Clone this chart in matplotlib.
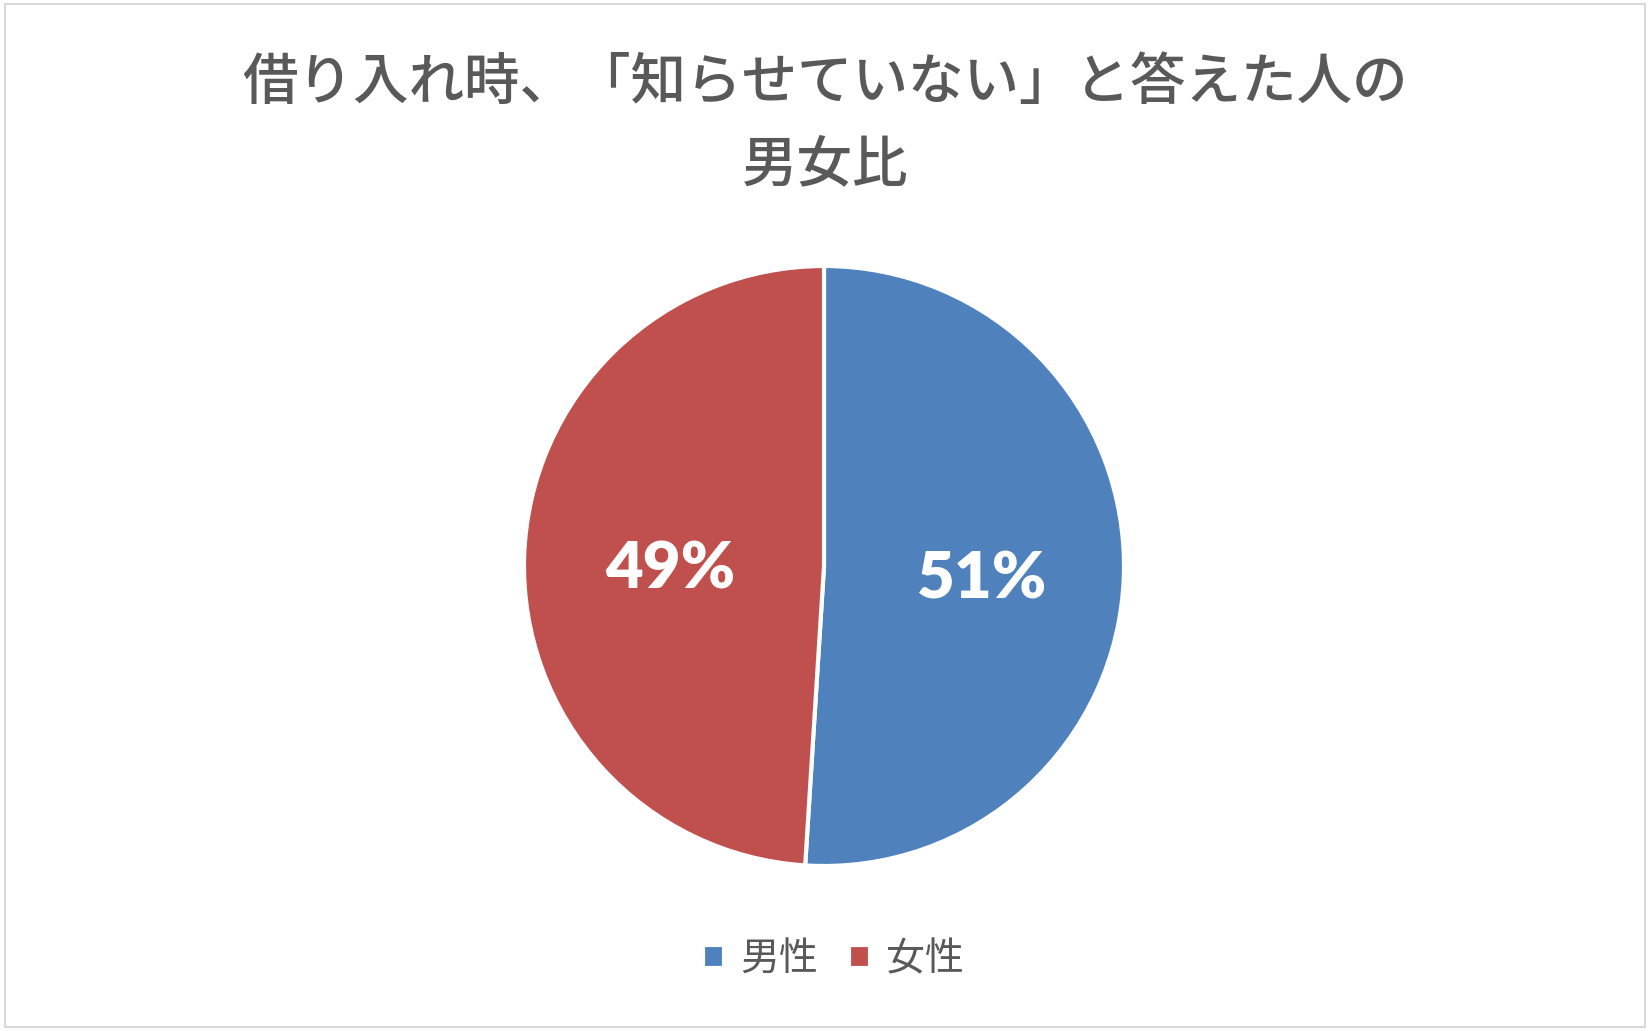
import matplotlib.pyplot as plt
from matplotlib.patches import Rectangle
from matplotlib.transforms import offset_copy

plt.rcParams['font.family'] = ['Noto Sans CJK JP', 'DejaVu Sans']

title = "借り入れ時、「知らせていない」と答えた人の\n男女比"
labels = ["男性", "女性"]
shares = [51, 49]
colors = ["#4F81BD", "#C0504D"]

fig = plt.figure(figsize=(16.5, 10.31), dpi=100)
fig.patch.set_facecolor("white")
fig.patches.append(Rectangle((0.003, 0.004), 0.994, 0.992, transform=fig.transFigure,
                             fill=False, edgecolor="#D9D9D9", linewidth=1.5))

# pie area: center ~ (824, 566) px, radius ~ 300 px
cx, cy, r = 824 / 1650, 1 - 566 / 1031, 300
ax = fig.add_axes([cx - r / 1650, cy - r / 1031, 2 * r / 1650, 2 * r / 1031])
wedges, texts, autotexts = ax.pie(
    shares, colors=colors, startangle=90, counterclock=False,
    autopct="%d%%", pctdistance=0.52,
    wedgeprops=dict(edgecolor="white", linewidth=3),
    textprops=dict(color="white", fontsize=47, fontweight="heavy", family="Lato"),
)
for t in autotexts:
    t.set_transform(offset_copy(t.get_transform(), fig=fig, x=2, y=-9, units="dots"))
ax.set_xlim(-1, 1)
ax.set_ylim(-1, 1)
ax.set_aspect("equal")

fig.text(0.5, 1 - 124 / 1031, title, ha="center", va="center", fontsize=40,
         fontweight="medium", color="#595959", linespacing=1.6)

leg = fig.legend(wedges, labels, loc="center", bbox_to_anchor=(0.505, 1 - 959 / 1031),
                 ncol=2, frameon=False, fontsize=28, labelcolor="#595959",
                 handlelength=0.55, handleheight=0.55, handletextpad=0.4, columnspacing=0.8)

fig.savefig("out.png", dpi=100)
